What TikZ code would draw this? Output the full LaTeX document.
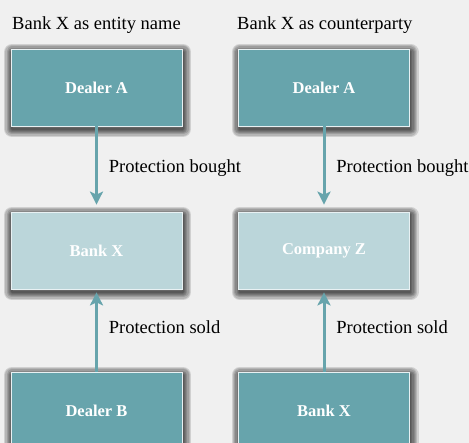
\documentclass[tikz,border=0pt]{standalone}
\usepackage{fontspec}
\setmainfont{Liberation Serif}
\usetikzlibrary{arrows.meta}
\definecolor{tealdark}{HTML}{67A4AC}
\definecolor{teallight}{HTML}{BBD6DA}
\definecolor{paper}{HTML}{F0F0F0}

\begin{document}
\begin{tikzpicture}[x=1pt, y=-1pt, every node/.style={font=\fontsize{18.5}{22}\selectfont}]
	\tikzset{
		haze/.style={preaction={draw=black, draw opacity=0.13, line width=#1, line join=round,
			transform canvas={xshift=1pt, yshift=-3pt}}},
		party/.style={draw=white!85!tealdark, line width=0.8pt, minimum width=171pt, minimum height=77pt,
			text=white, font=\fontsize{16.5}{20}\selectfont\bfseries,
			haze=16pt, haze=13.5pt, haze=11pt, haze=8.5pt, haze=6pt, haze=3.5pt, haze=1.5pt},
		dealer/.style={party, fill=tealdark},
		entity/.style={party, fill=teallight},
		link/.style={tealdark, line width=3pt, -{Stealth[length=13pt, width=13pt, inset=3pt]}},
		heading/.style={anchor=base west, inner sep=0pt}
	}
	\useasboundingbox[fill=paper] (0,0) rectangle (469,443);
	% left column: bank X as entity name
	\node[heading] (hleft) at (12,30) {Bank X as entity name};
	\node[dealer] (dealA) at (96.5,87.5) {Dealer A};
	\node[entity] (bankX) at (96.5,250.5) {Bank X};
	\node[dealer] (dealB) at (96.5,410.5) {Dealer B};
	\draw[link, shorten >=7pt] (dealA.south) -- (bankX.north) node[midway, right=7.5pt, yshift=1pt, text=black] {Protection bought};
	\draw[link, shorten >=3pt] (dealB.north) -- (bankX.south) node[midway, right=7.5pt, yshift=3pt, text=black] {Protection sold};
	% right column: bank X as counterparty
	\node[heading] (hright) at (237,30) {Bank X as counterparty};
	\node[dealer] (dealA2) at (324,87.5) {Dealer A};
	\node[entity] (compZ) at (324,250.5) {Company Z};
	\node[dealer] (bankX2) at (324,410.5) {Bank X};
	\draw[link, shorten >=7pt] (dealA2.south) -- (compZ.north) node[midway, right=7.5pt, yshift=1pt, text=black] {Protection bought};
	\draw[link, shorten >=3pt] (bankX2.north) -- (compZ.south) node[midway, right=7.5pt, yshift=3pt, text=black] {Protection sold};
\end{tikzpicture}
\end{document}
